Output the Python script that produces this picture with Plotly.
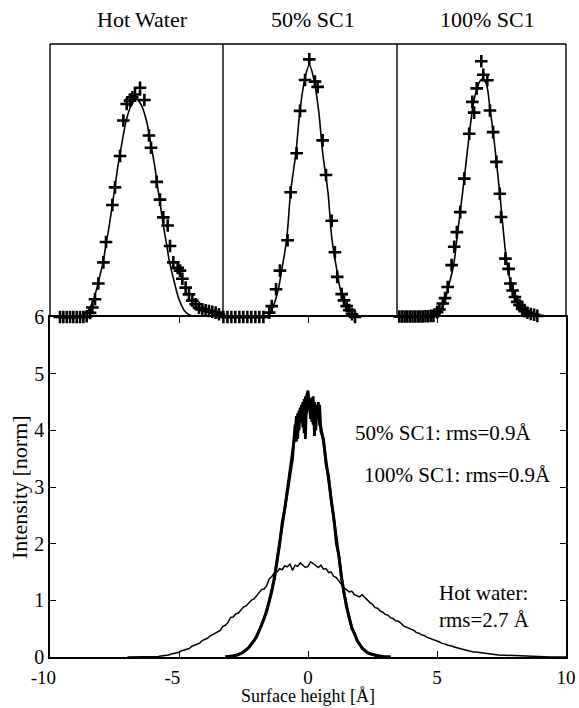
import plotly.graph_objects as go

W, H = 579, 708

# ---------------- main panel data (Surface height [Å] vs Intensity [norm]) ----------------
hot_x = [-7.0, -6.9, -6.8, -6.7, -6.6, -6.5, -6.4, -6.3, -6.2, -6.1, -6.0, -5.9, -5.8, -5.7, -5.6,
         -5.5, -5.4, -5.3, -5.2, -5.1, -5.0, -4.9, -4.8, -4.7, -4.6, -4.5, -4.4, -4.3, -4.2, -4.1,
         -4.0, -3.9, -3.8, -3.7, -3.6, -3.5, -3.4, -3.3, -3.2, -3.1, -3.0, -2.9, -2.8, -2.7, -2.6,
         -2.5, -2.4, -2.3, -2.2, -2.1, -2.0, -1.9, -1.8, -1.7, -1.6, -1.5, -1.4, -1.3, -1.2, -1.1,
         -1.0, -0.9, -0.8, -0.7, -0.6, -0.5, -0.4, -0.3, -0.2, -0.1, 0.0, 0.1, 0.2, 0.3, 0.4,
         0.5, 0.6, 0.7, 0.8, 0.9, 1.0, 1.1, 1.2, 1.3, 1.4, 1.5, 1.6, 1.7, 1.8, 1.9,
         2.0, 2.1, 2.2, 2.3, 2.4, 2.5, 2.6, 2.7, 2.8, 2.9, 3.0, 3.1, 3.2, 3.3, 3.4,
         3.5, 3.6, 3.7, 3.8, 3.9, 4.0, 4.1, 4.2, 4.3, 4.4, 4.5, 4.6, 4.7, 4.8, 4.9,
         5.0, 5.1, 5.2, 5.3, 5.4, 5.5, 5.6, 5.7, 5.8, 5.9, 6.0, 6.1, 6.2, 6.3, 6.4,
         6.5, 6.6, 6.7, 6.8, 6.9, 7.0, 7.1, 7.2, 7.3, 7.4, 7.5, 7.6, 7.7, 7.8, 7.9,
         8.0, 8.2, 8.4, 8.6, 8.8, 9.0, 9.2, 9.4, 9.6, 9.8, 10.0]
hot_y = [0.000, 0.000, 0.000, 0.001, 0.002, 0.002, 0.003, 0.004, 0.004, 0.005, 0.006, 0.009, 0.010, 0.016, 0.020,
         0.030, 0.035, 0.052, 0.060, 0.078, 0.085, 0.110, 0.120, 0.128, 0.150, 0.190, 0.205, 0.218, 0.245, 0.290,
         0.310, 0.330, 0.370, 0.395, 0.420, 0.440, 0.470, 0.540, 0.560, 0.610, 0.700, 0.705, 0.760, 0.775, 0.820,
         0.880, 0.900, 0.960, 1.000, 1.020, 1.080, 1.150, 1.190, 1.200, 1.260, 1.380, 1.420, 1.490, 1.500, 1.560,
         1.540, 1.610, 1.590, 1.640, 1.530, 1.620, 1.600, 1.660, 1.620, 1.580, 1.600, 1.680, 1.650, 1.610, 1.580,
         1.620, 1.550, 1.560, 1.490, 1.500, 1.420, 1.400, 1.330, 1.280, 1.220, 1.190, 1.150, 1.160, 1.100, 1.080,
         1.060, 1.100, 1.050, 1.010, 0.960, 0.930, 0.870, 0.860, 0.810, 0.790, 0.750, 0.740, 0.690, 0.680, 0.640,
         0.630, 0.600, 0.550, 0.530, 0.510, 0.480, 0.470, 0.430, 0.420, 0.390, 0.380, 0.350, 0.335, 0.310, 0.300,
         0.280, 0.265, 0.240, 0.232, 0.210, 0.205, 0.190, 0.172, 0.160, 0.150, 0.140, 0.120, 0.110, 0.102, 0.090,
         0.087, 0.080, 0.070, 0.065, 0.062, 0.055, 0.048, 0.045, 0.040, 0.035, 0.033, 0.030, 0.026, 0.025, 0.020,
         0.018, 0.014, 0.010, 0.007, 0.005, 0.004, 0.003, 0.002, 0.001, 0.000, 0.000]

sc_x = [-3.2, -3.1, -3.0, -2.9, -2.8, -2.7, -2.6, -2.5, -2.4, -2.3, -2.2, -2.1, -2.0, -1.9, -1.8,
        -1.7, -1.6, -1.5, -1.4, -1.3, -1.2, -1.1, -1.0, -0.9, -0.8, -0.7, -0.6, -0.5, -0.45, -0.4,
        -0.35, -0.3, -0.25, -0.2, -0.15, -0.1, -0.05, 0.0, 0.05, 0.1, 0.15, 0.2, 0.25, 0.3, 0.35,
        0.4, 0.45, 0.5, 0.6, 0.7, 0.8, 0.9, 1.0, 1.1, 1.2, 1.3, 1.4, 1.5, 1.6, 1.7,
        1.8, 1.9, 2.0, 2.1, 2.2, 2.3, 2.4, 2.5, 2.6, 2.7, 2.8, 2.9, 3.0, 3.2]
sc50_y = [0.00, 0.00, 0.01, 0.015, 0.025, 0.04, 0.06, 0.09, 0.12, 0.17, 0.22, 0.28, 0.36, 0.45, 0.56,
          0.68, 0.82, 0.98, 1.16, 1.40, 1.68, 1.98, 2.38, 2.62, 2.96, 3.22, 3.55, 3.95, 4.25, 3.85,
          4.35, 4.15, 4.45, 4.05, 4.55, 3.85, 4.62, 4.70, 4.40, 4.55, 4.15, 4.60, 3.90, 4.45, 4.20,
          4.50, 4.10, 4.05, 3.80, 3.45, 3.12, 2.80, 2.42, 2.05, 1.75, 1.42, 1.12, 0.88, 0.68, 0.52,
          0.40, 0.30, 0.22, 0.16, 0.11, 0.08, 0.06, 0.04, 0.03, 0.02, 0.01, 0.005, 0.00, 0.00]
sc100_y = [0.00, 0.005, 0.01, 0.02, 0.03, 0.045, 0.065, 0.085, 0.13, 0.16, 0.23, 0.29, 0.35, 0.46, 0.58,
           0.70, 0.80, 1.00, 1.20, 1.38, 1.72, 2.02, 2.32, 2.68, 2.92, 3.28, 3.50, 4.10, 3.80, 4.30,
           4.00, 4.40, 4.20, 4.50, 3.95, 4.60, 4.30, 4.65, 4.50, 4.20, 4.58, 4.10, 4.50, 4.00, 4.40,
           4.25, 4.45, 3.98, 3.85, 3.40, 3.18, 2.76, 2.46, 2.00, 1.78, 1.38, 1.15, 0.86, 0.70, 0.50,
           0.42, 0.29, 0.23, 0.15, 0.12, 0.075, 0.055, 0.045, 0.025, 0.02, 0.012, 0.005, 0.00, 0.00]

# ---------------- top panels: histogram points (+) and Gaussian fit lines ----------------
hw_pts_x = [-9.85, -9.42, -8.98, -8.55, -8.13, -7.69, -7.26, -6.83, -6.40, -5.97, -5.67, -5.33, -4.90,
            -4.25, -3.91, -3.09, -2.75, -2.10, -1.67, -1.24, -0.81, -0.51, -0.17, 0.48, 1.04, 1.64,
            1.90, 2.63, 3.06, 3.49, 4.05, 4.35, 4.78, 5.34, 5.64, 5.94, 6.37, 6.80, 7.23, 7.66,
            8.09, 8.52, 8.95, 9.38, 9.81, 10.24, 10.67, 11.23, 11.66]
hw_pts_y = [0.0, 0.0, 0.0, 0.0, 0.0, 0.0, 0.0, 0.0, 0.005, 0.03, 0.07, 0.13, 0.245,
            0.40, 0.55, 0.82, 0.95, 1.18, 1.44, 1.56, 1.585, 1.61, 1.63, 1.68, 1.59, 1.33,
            1.24, 0.99, 0.86, 0.73, 0.67, 0.52, 0.40, 0.36, 0.34, 0.28, 0.215, 0.166, 0.12, 0.093,
            0.068, 0.056, 0.049, 0.044, 0.039, 0.032, 0.02, 0.007, 0.0]
hw_fit_x = [-9.5, -7.74, -6.88, -6.24, -5.51, -4.95, -4.26, -3.91, -3.53, -3.10, -2.75, -2.37, -1.94,
            -1.29, -0.645, 0.0, 0.645, 1.29, 1.94, 2.37, 2.75, 3.10, 3.53, 3.91, 4.26, 4.95, 5.51,
            6.24, 6.88, 7.74, 9.5]
hw_fit_y = [0.0, 0.0, 0.015, 0.044, 0.130, 0.245, 0.411, 0.533, 0.656, 0.822, 0.954, 1.108, 1.248,
            1.443, 1.553, 1.598, 1.553, 1.443, 1.248, 1.108, 0.954, 0.822, 0.656, 0.533, 0.411, 0.245, 0.130,
            0.044, 0.015, 0.0, 0.0]

s50_pts_x = [-4.83, -4.60, -4.38, -4.16, -3.93, -3.71, -3.48, -3.26, -3.03, -2.81, -2.58, -2.25, -2.11,
             -1.87, -1.65, -1.22, -1.05, -0.71, -0.52, -0.24, 0.00, 0.32, 0.47, 0.75, 0.94, 1.26,
             1.44, 1.57, 1.82, 1.95, 2.10, 2.25, 2.40, 2.57, 2.75, 2.94, 3.15, 3.35, 3.56, 3.77]
s50_pts_y = [0.0, 0.0, 0.0, 0.0, 0.0, 0.0, 0.0, 0.0, 0.0, 0.0, 0.0, 0.076, 0.19,
             0.485, 0.81, 1.34, 2.18, 2.86, 3.60, 4.14, 4.50, 4.11, 4.02, 3.085, 2.48, 1.68,
             1.13, 0.70, 0.40, 0.29, 0.19, 0.12, 0.047, 0.0, -0.01, -0.01, -0.01, -0.01, -0.01, -0.01]
s50_fit_x = [-3.2, -2.434, -2.210, -1.985, -1.742, -1.554, -1.273, -1.049, -0.749, -0.524, -0.243, 0.0,
             0.243, 0.524, 0.749, 1.049, 1.273, 1.554, 1.742, 1.985, 2.210, 2.434, 3.2]
s50_fit_y = [0.0, 0.0, 0.076, 0.22, 0.485, 0.81, 1.36, 2.18, 2.88, 3.61, 4.17, 4.40,
             4.17, 3.61, 2.88, 2.18, 1.36, 0.81, 0.485, 0.22, 0.076, 0.0, 0.0]

s100_pts_x = [-4.83, -4.68, -4.53, -4.38, -4.23, -4.08, -3.93, -3.78, -3.63, -3.48, -3.34, -3.19, -3.04,
              -2.89, -2.74, -2.53, -2.40, -2.21, -2.08, -1.93, -1.71, -1.56, -1.41, -1.22, -0.99, -0.71,
              -0.53, -0.43, -0.28, -0.02, 0.09, 0.32, 0.47, 0.65, 0.84, 1.03, 1.10, 1.35, 1.53,
              1.63, 1.76, 1.89, 2.02, 2.15, 2.30, 2.45, 2.60, 2.79, 2.98, 3.16, 3.31]
s100_pts_y = [0.01, 0.01, 0.01, 0.01, 0.01, 0.01, 0.01, 0.01, 0.01, 0.01, 0.01, 0.015, 0.015,
              0.02, 0.02, 0.09, 0.14, 0.25, 0.35, 0.555, 0.96, 1.30, 1.57, 1.94, 2.56, 3.39,
              3.98, 3.78, 4.23, 4.73, 4.48, 4.38, 3.82, 3.42, 2.87, 2.28, 1.85, 1.08, 0.89,
              0.62, 0.49, 0.37, 0.28, 0.22, 0.15, 0.105, 0.08, 0.055, 0.043, 0.02, -0.03]
s100_fit_x = [-3.3, -2.87, -2.59, -2.40, -2.12, -1.89, -1.59, -1.41, -1.22, -0.99, -0.71, -0.47, -0.25,
              -0.06, 0.09, 0.28, 0.47, 0.65, 0.84, 1.03, 1.22, 1.40, 1.63, 1.91, 2.19, 2.56, 2.94, 3.3]
s100_fit_y = [0.0, 0.02, 0.06, 0.105, 0.28, 0.555, 0.97, 1.44, 1.94, 2.56, 3.36, 3.95, 4.24,
              4.38, 4.40, 4.29, 3.86, 3.42, 2.87, 2.28, 1.63, 1.08, 0.65, 0.34, 0.155, 0.055, 0.02, 0.0]

panel_titles = ["Hot Water", "50% SC1", "100% SC1"]
x_ticks = [-10, -5, 0, 5, 10]
x_tick_text = ["-10\u2002\u2009", "-5\u2002\u2009", "0", "5", "10"]
y_ticks = [0, 1, 2, 3, 4, 5, 6]
notes = ["50% SC1: rms=0.9Å", "100% SC1: rms=0.9Å", "Hot water:", "rms=2.7 Å"]

# ---------------- layout helpers (pixel -> paper) ----------------
def px(v):
    return v / W

def py(v):
    return 1 - v / H

FONT = "Liberation Serif, Times New Roman, serif"
BLACK = "black"

fig = go.Figure()

# main panel
fig.add_trace(go.Scatter(x=hot_x, y=hot_y, mode="lines", line=dict(color=BLACK, width=1.5),
                         xaxis="x", yaxis="y", showlegend=False))
fig.add_trace(go.Scatter(x=sc_x, y=sc50_y, mode="lines", line=dict(color=BLACK, width=2.8),
                         xaxis="x", yaxis="y", showlegend=False))
fig.add_trace(go.Scatter(x=sc_x, y=sc100_y, mode="lines", line=dict(color=BLACK, width=2.8),
                         xaxis="x", yaxis="y", showlegend=False))

# top panels
panels = [
    (hw_fit_x, hw_fit_y, hw_pts_x, hw_pts_y, "x2", "y2"),
    (s50_fit_x, s50_fit_y, s50_pts_x, s50_pts_y, "x3", "y3"),
    (s100_fit_x, s100_fit_y, s100_pts_x, s100_pts_y, "x4", "y4"),
]
for fx, fy, mx, my, xa, ya in panels:
    fig.add_trace(go.Scatter(x=fx, y=fy, mode="lines", line=dict(color=BLACK, width=1.6, shape="spline"),
                             xaxis=xa, yaxis=ya, showlegend=False, cliponaxis=False))
    fig.add_trace(go.Scatter(x=mx, y=my, mode="markers",
                             marker=dict(symbol="cross-thin", size=9, color=BLACK,
                                         line=dict(color=BLACK, width=2.6)),
                             xaxis=xa, yaxis=ya, showlegend=False, cliponaxis=False))

main_common = dict(showgrid=False, zeroline=False, showline=True, linecolor=BLACK, linewidth=1.5,
                   automargin=False)
panel_common = dict(showgrid=False, zeroline=False, showline=False, automargin=False,
                    showticklabels=False, ticks="")

L, R, D1, D2 = 50, 566, 223, 397
TOP, MID, BOT = 44, 317, 657

main_x_dom = [px(L), px(R)]
main_y_dom = [py(BOT), py(MID)]
top_y_dom = [py(MID), py(TOP)]
top_x_doms = [[px(L), px(D1)], [px(D1), px(D2)], [px(D2), px(R)]]
top_x_ranges = [[-11.14, 11.19], [-4.85, 4.93], [-4.81, 4.79]]
top_y_ranges = [[0, 2.0], [0, 4.768], [0, 5.05]]

layout = dict(
    width=W, height=H,
    margin=dict(l=0, r=0, t=0, b=0),
    paper_bgcolor="white", plot_bgcolor="white",
    font=dict(family=FONT, color=BLACK, size=21),
    showlegend=False,
    xaxis=dict(domain=main_x_dom, range=[-10, 10], tickvals=x_ticks, ticktext=x_tick_text,
               ticks="inside", ticklen=6, tickwidth=1.3, tickcolor=BLACK, mirror="ticks",
               ticklabelstandoff=2,
               tickfont=dict(size=19, family=FONT), anchor="y", **main_common),
    yaxis=dict(domain=main_y_dom, range=[0, 6], tickvals=y_ticks,
               ticks="inside", ticklen=6, tickwidth=1.3, tickcolor=BLACK, mirror="ticks",
               tickfont=dict(size=20, family=FONT), anchor="x", **main_common),
)
for i in range(3):
    n = i + 2
    layout[f"xaxis{n}"] = dict(domain=top_x_doms[i], range=top_x_ranges[i], anchor=f"y{n}", **panel_common)
    layout[f"yaxis{n}"] = dict(domain=top_y_dom, range=top_y_ranges[i], anchor=f"x{n}", **panel_common)
fig.update_layout(**layout)

# thin frame of the three top boxes (bottom edge is the main axis' top line)
frame = dict(color=BLACK, width=1.4)
shapes = []
for x0, y0, x1, y1 in [(L, TOP, R, TOP), (L, TOP, L, MID), (R, TOP, R, MID),
                       (D1, TOP, D1, MID), (D2, TOP, D2, MID)]:
    shapes.append(dict(type="line", xref="paper", yref="paper",
                       x0=px(x0), y0=py(y0), x1=px(x1), y1=py(y1), line=frame))
fig.update_layout(shapes=shapes)

annotations = []
title_x = [142, 313, 487]
for t, xp in zip(panel_titles, title_x):
    annotations.append(dict(text=t, x=px(xp), y=py(20), xref="paper", yref="paper",
                            showarrow=False, xanchor="center", yanchor="middle",
                            font=dict(size=22, family=FONT)))
note_pos = [(353, 433), (362, 475), (437, 593), (437, 620)]
for t, (xp, yp) in zip(notes, note_pos):
    annotations.append(dict(text=t, x=px(xp), y=py(yp), xref="paper", yref="paper",
                            showarrow=False, xanchor="left", yanchor="middle",
                            font=dict(size=21, family=FONT)))
annotations.append(dict(text="Surface height [Å]", x=px(308), y=0, xref="paper", yref="paper",
                        showarrow=False, xanchor="center", yanchor="bottom", yshift=0,
                        font=dict(size=18, family=FONT)))
annotations.append(dict(text="Intensity [norm]", x=px(19), y=py(487), xref="paper", yref="paper",
                        showarrow=False, xanchor="center", yanchor="middle", textangle=-90,
                        font=dict(size=22, family=FONT)))
fig.update_layout(annotations=annotations)

fig.write_html("out.html")
